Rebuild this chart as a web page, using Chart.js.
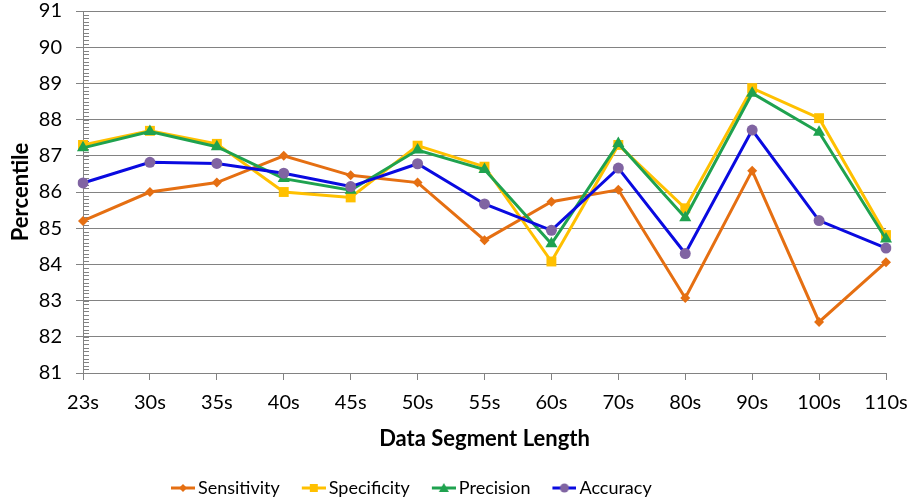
<!DOCTYPE html>
<html>
<head>
<meta charset="utf-8">
<script src="https://cdn.jsdelivr.net/npm/chart.js@4/dist/chart.umd.min.js"></script>
<style>
  html, body { margin: 0; padding: 0; background: #fff; }
  #wrap { width: 914px; height: 504px; position: relative; overflow: hidden; }
</style>
</head>
<body>
<div id="wrap"><canvas id="c" width="914" height="504"></canvas></div>
<script>
const categories = ['23s','30s','35s','40s','45s','50s','55s','60s','70s','80s','90s','100s','110s'];
const sensitivity = [85.20, 86.00, 86.26, 87.00, 86.46, 86.26, 84.67, 85.73, 86.06, 83.07, 86.59, 82.41, 84.06];
const specificity = [87.30, 87.69, 87.33, 86.00, 85.85, 87.28, 86.70, 84.08, 87.30, 85.55, 88.87, 88.04, 84.81];
const precision   = [87.22, 87.67, 87.25, 86.37, 86.05, 87.16, 86.62, 84.57, 87.34, 85.29, 88.73, 87.65, 84.70];
const accuracy    = [86.25, 86.82, 86.79, 86.52, 86.15, 86.78, 85.67, 84.94, 86.66, 84.30, 87.71, 85.21, 84.45];
const yTicks = [81, 82, 83, 84, 85, 86, 87, 88, 89, 90, 91];

const FONT = 'Lato, "Open Sans", sans-serif';
const GRID = '#828282';
const BOXW = 25;           // legend box width
const ICONW = BOXW + 12;   // legend icon canvas width (visible part at right)

function legendIcon(lineColor, markColor, style) {
  const c = document.createElement('canvas');
  c.width = ICONW; c.height = 14;
  const g = c.getContext('2d');
  const o = ICONW - 24;
  g.strokeStyle = lineColor; g.lineWidth = 3;
  g.beginPath(); g.moveTo(o, 7); g.lineTo(o + 24, 7); g.stroke();
  g.fillStyle = markColor;
  g.beginPath();
  const cx = o + 12;
  if (style === 'diamond') { g.moveTo(cx, 3); g.lineTo(cx + 4, 7); g.lineTo(cx, 11); g.lineTo(cx - 4, 7); g.closePath(); }
  else if (style === 'square') { g.rect(cx - 4, 3, 8, 8); }
  else if (style === 'triangle') { g.moveTo(cx, 2); g.lineTo(cx + 5, 11); g.lineTo(cx - 5, 11); g.closePath(); }
  else { g.arc(cx, 7, 4.5, 0, Math.PI * 2); }
  g.fill();
  return c;
}

const series = [
  { label: 'Sensitivity', data: sensitivity, line: '#E56F12', mark: '#E56F12', ps: 'rectRot', r: 5, icon: 'diamond' },
  { label: 'Specificity', data: specificity, line: '#FFC000', mark: '#FFC000', ps: 'rect', r: 7, icon: 'square' },
  { label: 'Precision',   data: precision,   line: '#1FA24F', mark: '#1FA24F', ps: 'triangle', r: 7, icon: 'triangle' },
  { label: 'Accuracy',    data: accuracy,    line: '#0A0AE0', mark: '#8064A2', ps: 'circle', r: 5.5, icon: 'circle' }
];

const minorTicks = {
  id: 'minorTicks',
  beforeDatasetsDraw(chart) {
    const y = chart.scales.y, ctx = chart.ctx, left = chart.chartArea.left;
    ctx.save();
    ctx.strokeStyle = GRID; ctx.lineWidth = 1;
    ctx.beginPath();
    for (let i = 0; i <= 100; i++) {
      const v = 81 + i * 0.1;
      const py = Math.round(y.getPixelForValue(v)) + 0.5;
      ctx.moveTo(left, py); ctx.lineTo(left + 6, py);
    }
    ctx.stroke();
    ctx.restore();
  }
};

const legendShift = {
  id: 'legendShift',
  afterLayout(chart) { if (chart.legend) chart.legend.left = 149; }
};

new Chart(document.getElementById('c'), {
  type: 'line',
  data: {
    labels: categories,
    datasets: series.map((s, i) => ({
      label: s.label,
      data: s.data,
      borderColor: s.line,
      backgroundColor: s.mark,
      pointBackgroundColor: s.mark,
      pointBorderColor: s.mark,
      pointStyle: s.ps,
      pointRadius: s.r,
      pointBorderWidth: 0,
      borderWidth: 3,
      tension: 0,
      order: 4 - i,
      icon: legendIcon(s.line, s.mark, s.icon)
    }))
  },
  options: {
    responsive: false,
    animation: false,
    devicePixelRatio: 1,
    layout: { padding: { left: 0, right: 28, top: 11, bottom: -3 } },
    plugins: {
      tooltip: { enabled: false },
      legend: {
        position: 'bottom',
        align: 'start',
        labels: {
          usePointStyle: true,
          pointStyleWidth: BOXW,
          boxHeight: 14,
          padding: 15,
          color: '#000',
          font: { family: FONT, size: 18 },
          generateLabels(chart) {
            return chart.data.datasets.map((d, i) => ({
              text: d.label,
              pointStyle: d.icon,
              fillStyle: d.borderColor,
              strokeStyle: d.borderColor,
              lineWidth: 0,
              hidden: false,
              datasetIndex: i,
              fontColor: '#000'
            }));
          }
        }
      }
    },
    scales: {
      x: {
        offset: false,
        grid: { display: true, drawOnChartArea: false, drawTicks: true, tickLength: 7, color: GRID },
        border: { display: false },
        ticks: { color: '#000', font: { family: FONT, size: 20 }, padding: 11, maxRotation: 0, autoSkip: false },
        title: { display: true, text: 'Data Segment Length', color: '#000', font: { family: FONT, size: 22, weight: 'bold' }, padding: { top: 2, bottom: 12 } },
        afterFit(scale) { scale.height = 91; scale.paddingLeft = 0; scale.paddingRight = 0; }
      },
      y: {
        min: 81, max: 91,
        afterBuildTicks(scale) { scale.ticks = yTicks.map(v => ({ value: v })); },
        grid: { color: GRID, tickLength: 7, drawTicks: true },
        border: { display: true, color: GRID },
        ticks: { color: '#000', font: { family: FONT, size: 20 }, padding: 14 },
        title: { display: true, text: 'Percentile', color: '#000', font: { family: FONT, size: 22, weight: 'bold' }, padding: { top: 8, bottom: 6 } },
        afterFit(scale) { scale.width = 83; scale.paddingTop = 0; scale.paddingBottom = 0; }
      }
    }
  },
  plugins: [minorTicks, legendShift]
});
</script>
</body>
</html>
